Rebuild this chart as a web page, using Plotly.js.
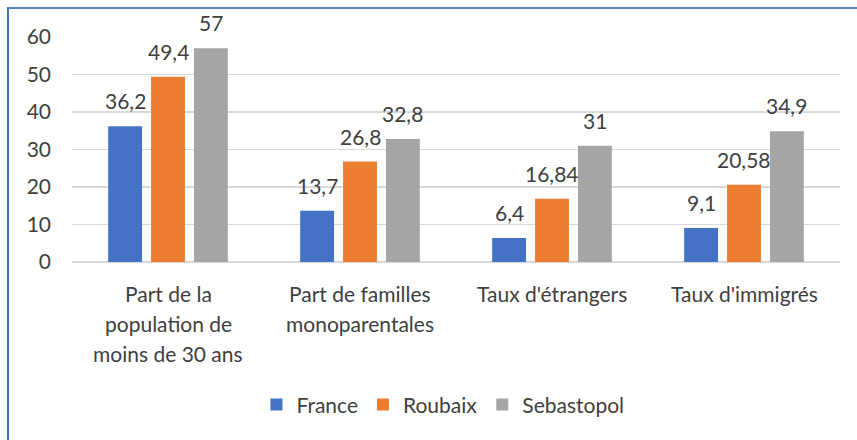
<!DOCTYPE html>
<html>
<head>
<meta charset="utf-8">
<script src="https://cdn.plot.ly/plotly-3.0.1.min.js"></script>
<style>
  html, body { margin: 0; padding: 0; background: #fff; }
  #wrap { position: relative; width: 857px; height: 440px; }
  #chart { width: 857px; height: 440px; }
  #frame { position: absolute; left: 7px; top: 7px; right: 0; bottom: 0;
           border-left: 2px solid #4472C4; border-top: 2px solid #5B83CC; pointer-events: none; }
</style>
</head>
<body>
<div id="wrap"><div id="chart"></div><div id="frame"></div></div>
<script>
// ---- data ----
const categories = [
  "Part de la<br>population de<br>moins de 30 ans",
  "Part de familles<br>monoparentales",
  "Taux d'étrangers",
  "Taux d'immigrés"
];
const seriesNames = ["France", "Roubaix", "Sebastopol"];
const franceValues = [36.2, 13.7, 6.4, 9.1];
const roubaixValues = [49.4, 26.8, 16.84, 20.58];
const sebastopolValues = [57, 32.8, 31, 34.9];
const yTickValues = [0, 10, 20, 30, 40, 50, 60];

// ---- style ----
const colors = ["#4472C4", "#ED7D31", "#A5A5A5"];
const FONT = "Lato, 'Open Sans', sans-serif";
const TXT = "#404040";
const FS = 21;
const bargap = 0.33;
const bargroupgap = 0.21;

const allSeries = [franceValues, roubaixValues, sebastopolValues];
const xIdx = categories.map((c, i) => i);

const traces = allSeries.map((vals, k) => ({
  type: "bar",
  name: seriesNames[k],
  x: xIdx,
  y: vals,
  marker: { color: colors[k] },
  hoverinfo: "skip"
}));

function fmt(v) { return String(v).replace(".", ","); }

const annotations = [];
// value labels above bars
const slot = (1 - bargap) / allSeries.length;
allSeries.forEach((vals, k) => {
  vals.forEach((v, i) => {
    annotations.push({
      xref: "x", yref: "y",
      x: i + (k - (allSeries.length - 1) / 2) * slot,
      y: v,
      text: fmt(v),
      showarrow: false,
      xanchor: "center", yanchor: "bottom",
      yshift: 11,
      font: { family: FONT, size: FS, color: TXT }
    });
  });
});
// category labels (multi-line, Excel-like line spacing)
categories.forEach((c, i) => {
  c.split("<br>").forEach((line, n) => {
    annotations.push({
      xref: "x", yref: "paper",
      x: i, y: 0,
      text: line,
      showarrow: false,
      xanchor: "center", yanchor: "top",
      yshift: -(17 + 30 * n),
      font: { family: FONT, size: FS, color: TXT }
    });
  });
});

const layout = {
  width: 857, height: 440,
  margin: { l: 72, r: 17, t: 37, b: 178, pad: 0 },
  paper_bgcolor: "#fff", plot_bgcolor: "#fff",
  barmode: "group",
  bargap: bargap,
  bargroupgap: bargroupgap,
  showlegend: true,
  legend: {
    orientation: "h",
    x: 0.483, xanchor: "center",
    y: -0.635, yanchor: "middle",
    font: { family: FONT, size: FS, color: TXT },
    itemclick: false, itemdoubleclick: false
  },
  xaxis: {
    type: "linear",
    range: [-0.5, categories.length - 0.5],
    showticklabels: false,
    showgrid: false, zeroline: false,
    showline: false, ticks: "",
    fixedrange: true
  },
  yaxis: {
    range: [0, 60],
    tickvals: yTickValues,
    ticktext: yTickValues.map(String),
    showgrid: true, gridcolor: "#D9D9D9", gridwidth: 1.3,
    zeroline: true, zerolinecolor: "#D9D9D9", zerolinewidth: 1.3,
    showline: false, ticks: "",
    ticklabelstandoff: 20,
    tickfont: { family: FONT, size: FS, color: TXT },
    fixedrange: true
  },
  annotations: annotations
};

Plotly.newPlot("chart", traces, layout, { displayModeBar: false, staticPlot: true });
</script>
</body>
</html>
